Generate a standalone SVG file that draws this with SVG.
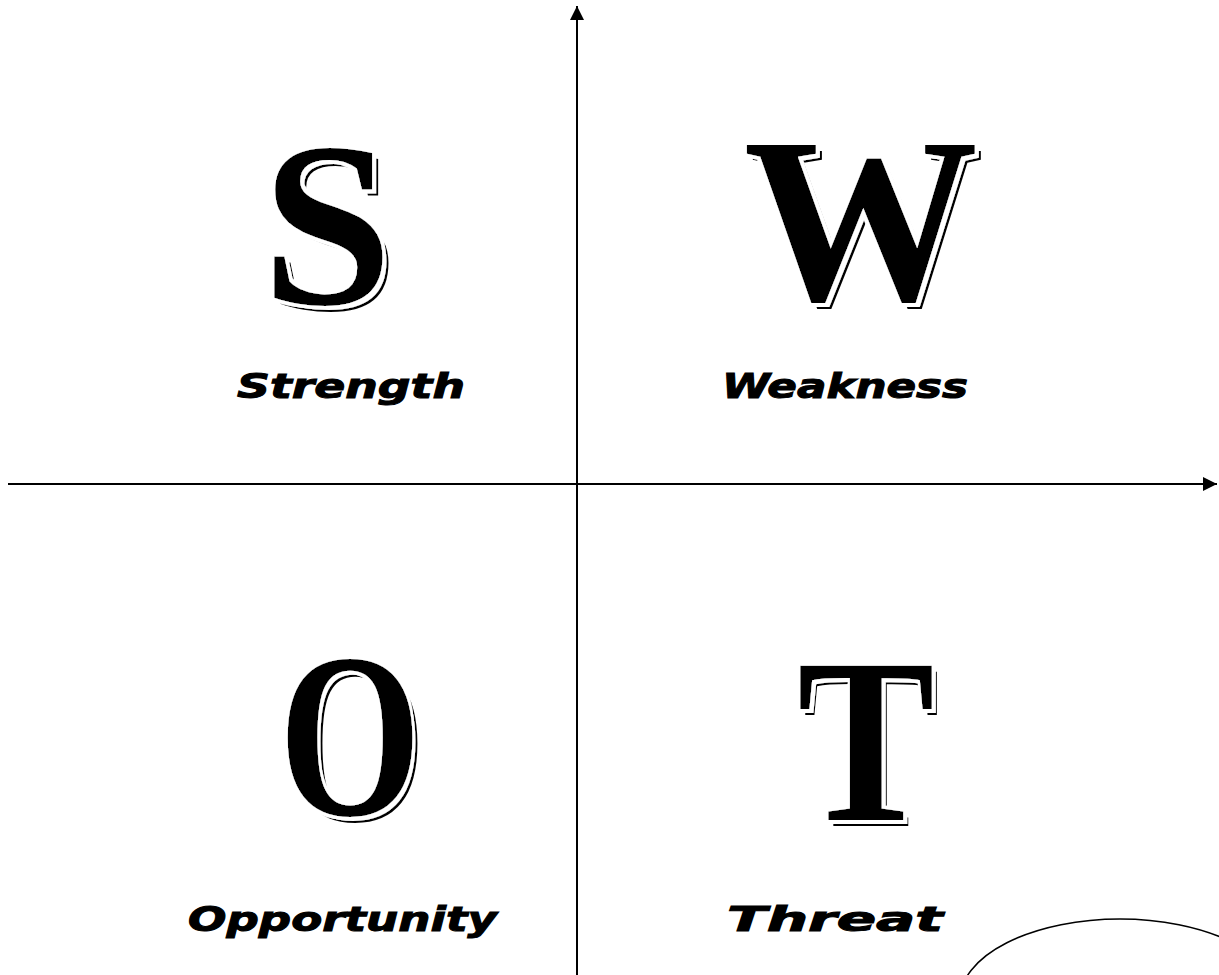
<svg xmlns="http://www.w3.org/2000/svg" width="1219" height="975" viewBox="0 0 1219 975">
<defs>
<style>
.big{font-family:"Liberation Serif","DejaVu Serif",serif;font-weight:bold;font-size:235px;text-anchor:middle;fill:#000;filter:url(#eng)}
.lbl{font-family:"DejaVu Sans","Liberation Sans",sans-serif;font-weight:bold;font-style:italic;font-size:33px;fill:#000;stroke:#000;stroke-width:1}
.axis{stroke:#000;stroke-width:2;fill:none}
</style>
<filter id="eng" x="-10%" y="-10%" width="130%" height="130%">
<feOffset in="SourceAlpha" dx="6" dy="6" result="o1"/>
<feFlood flood-color="#000" result="blk"/>
<feComposite in="blk" in2="o1" operator="in" result="sh"/>
<feOffset in="SourceAlpha" dx="4" dy="4" result="o2"/>
<feMorphology in="SourceAlpha" operator="dilate" radius="2.5" result="d"/>
<feMerge result="wm"><feMergeNode in="o2"/><feMergeNode in="d"/></feMerge>
<feFlood flood-color="#fff" result="wht"/>
<feComposite in="wht" in2="wm" operator="in" result="gap"/>
<feMerge><feMergeNode in="sh"/><feMergeNode in="gap"/><feMergeNode in="SourceGraphic"/></feMerge>
</filter>
<marker id="arr" viewBox="0 0 10 10" refX="10" refY="5" markerWidth="7" markerHeight="7" markerUnits="strokeWidth" orient="auto">
<path d="M0,0 L10,5 L0,10 Z" fill="#000"/>
</marker>
</defs>
<rect width="1219" height="975" fill="#fff"/>
<g id="connectors">
<line class="axis" x1="577" y1="975" x2="577" y2="6" marker-end="url(#arr)"/>
<line class="axis" x1="8" y1="484" x2="1217" y2="484" marker-end="url(#arr)"/>
</g>
<g id="node-S">
<text class="big" x="327" y="304">S</text>
<text class="lbl" x="237" y="398" textLength="228" lengthAdjust="spacingAndGlyphs">Strength</text>
</g>
<g id="node-W">
<text class="big" x="861" y="299">W</text>
<text class="lbl" x="722" y="398" textLength="246" lengthAdjust="spacingAndGlyphs">Weakness</text>
</g>
<g id="node-O">
<g transform="translate(350 0) scale(0.78 1) translate(-350 0)">
<text class="big" x="350" y="815">O</text>
</g>
<text class="lbl" x="188" y="931" textLength="309" lengthAdjust="spacingAndGlyphs">Opportunity</text>
</g>
<g id="node-T">
<g transform="translate(866 0) scale(0.88 1) translate(-866 0)">
<text class="big" x="866" y="820">T</text>
</g>
<text class="lbl" x="727" y="931" textLength="216" lengthAdjust="spacingAndGlyphs">Threat</text>
</g>
<g id="node-ellipse">
<ellipse cx="1120" cy="1000" rx="160" ry="81" fill="#fff" stroke="#000" stroke-width="1.5"/>
</g>
</svg>
